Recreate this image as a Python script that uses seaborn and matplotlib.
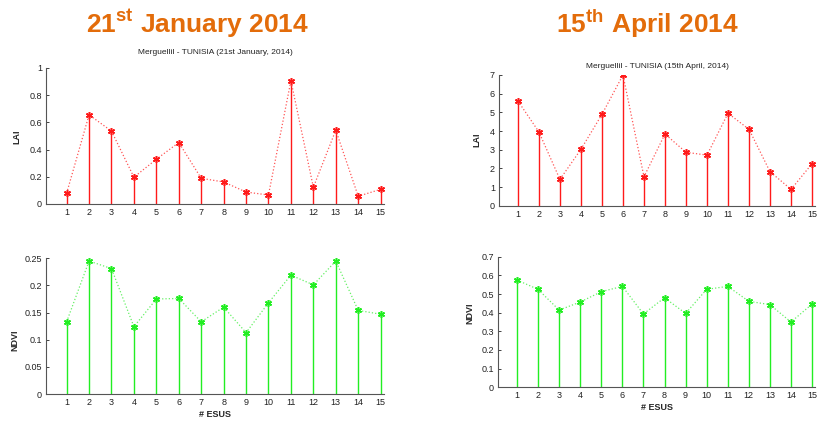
import matplotlib
matplotlib.use("Agg")
import matplotlib.pyplot as plt
from matplotlib.ticker import FuncFormatter
import seaborn as sns

# ESU identifiers (x axis)
esus = list(range(1, 16))

# Merguellil - 21st January 2014
lai_jan = [0.079, 0.656, 0.536, 0.197, 0.329, 0.452, 0.189, 0.162, 0.088, 0.066,
           0.907, 0.123, 0.543, 0.057, 0.108]
ndvi_jan = [0.133, 0.245, 0.231, 0.124, 0.175, 0.176, 0.133, 0.160, 0.113, 0.168,
            0.219, 0.201, 0.245, 0.154, 0.147]

# Merguellil - 15th April 2014
lai_apr = [5.61, 3.95, 1.41, 3.02, 4.89, 7.0, 1.55, 3.84, 2.86, 2.71,
           4.95, 4.09, 1.82, 0.875, 2.25]
ndvi_apr = [0.575, 0.525, 0.414, 0.457, 0.5125, 0.541, 0.393, 0.480, 0.396, 0.525,
            0.541, 0.461, 0.443, 0.350, 0.446]

lai_ticks_jan = [0, 0.2, 0.4, 0.6, 0.8, 1]
ndvi_ticks_jan = [0, 0.05, 0.1, 0.15, 0.2, 0.25]
lai_ticks_apr = [0, 1, 2, 3, 4, 5, 6, 7]
ndvi_ticks_apr = [0, 0.1, 0.2, 0.3, 0.4, 0.5, 0.6, 0.7]

sns.set_style("white")
plt.rcParams["font.family"] = ["Liberation Sans", "DejaVu Sans"]
plt.rcParams["mathtext.fontset"] = "custom"
plt.rcParams["mathtext.rm"] = "Liberation Sans"
plt.rcParams["mathtext.bf"] = "Liberation Sans:bold"

W, H = 821, 421
fig = plt.figure(figsize=(W / 100, H / 100), dpi=100)


def px_axes(x0, x1, ytop, ybot):
    return fig.add_axes([x0 / W, (H - ybot) / H, (x1 - x0) / W, (ybot - ytop) / H])


asterisk = (6, 2, 0)
fmt = FuncFormatter(lambda v, p: f"{v:g}")


def stem_panel(ax, vals, color, dot_color, ticks, xlim, ylabel, ylabel_px, xlabel=None):
    ax.vlines(esus, 0, vals, color=color, lw=1.0, zorder=2)
    sns.lineplot(x=esus, y=vals, ax=ax, color=dot_color, linestyle=":", lw=0.9,
                 marker=asterisk, markersize=5, markeredgewidth=1.1,
                 markeredgecolor=color, zorder=3)
    ax.set_xlim(*xlim)
    ax.set_ylim(ticks[0], ticks[-1])
    ax.set_xticks(esus)
    ax.set_yticks(ticks)
    ax.yaxis.set_major_formatter(fmt)
    for s in ("top", "right"):
        ax.spines[s].set_visible(False)
    for s in ("left", "bottom"):
        ax.spines[s].set_color("#555555")
        ax.spines[s].set_linewidth(0.8)
    ax.tick_params(axis="both", direction="in", length=2.5, width=0.6,
                   labelsize=6.5, colors="#222222", pad=3, left=True, bottom=True)
    ax.set_ylabel(ylabel, fontsize=6.5, fontweight="bold")
    ax.yaxis.set_label_coords(ylabel_px[0] / W, 1 - ylabel_px[1] / H,
                              transform=fig.transFigure)
    ax.set_xlabel(xlabel if xlabel else "", fontsize=6.5, fontweight="bold", labelpad=2)


red, red_dot = "#ff1a1a", "#ff5555"
green, green_dot = "#22ee22", "#66f066"

ax1 = px_axes(46, 384, 68, 204)
stem_panel(ax1, lai_jan, red, red_dot, lai_ticks_jan, (0.08, 15.15), "LAI", (21, 137))
ax3 = px_axes(46, 384, 258.3, 394)
stem_panel(ax3, ndvi_jan, green, green_dot, ndvi_ticks_jan, (0.08, 15.15), "NDVI",
           (19, 340), "# ESUS")

ax2 = px_axes(499, 815, 75, 205.7)
stem_panel(ax2, lai_apr, red, red_dot, lai_ticks_apr, (0.1, 15.14), "LAI", (481, 140))
ax4 = px_axes(498, 815, 256.7, 387.3)
stem_panel(ax4, ndvi_apr, green, green_dot, ndvi_ticks_apr, (0.1, 15.14), "NDVI",
           (474, 313), "# ESUS")

# Headline dates
orange = "#e36c0a"
fig.text(198 / W, 1 - 24 / H, r"21$^{\mathbf{st}}$ January 2014", ha="center", va="center",
         fontsize=19, fontweight="bold", color=orange)
fig.text(648 / W, 1 - 24 / H, r"15$^{\mathbf{th}}$ April 2014", ha="center", va="center",
         fontsize=19, fontweight="bold", color=orange)

# Panel subtitles
fig.text(215 / W, 1 - 52.7 / H, "Merguellil - TUNISIA (21st January, 2014)", ha="center",
         va="center", fontsize=6, color="#222222")
fig.text(657 / W, 1 - 67 / H, "Merguellil - TUNISIA (15th April, 2014)", ha="center",
         va="center", fontsize=6, color="#222222")

fig.savefig("out.png", dpi=100)
